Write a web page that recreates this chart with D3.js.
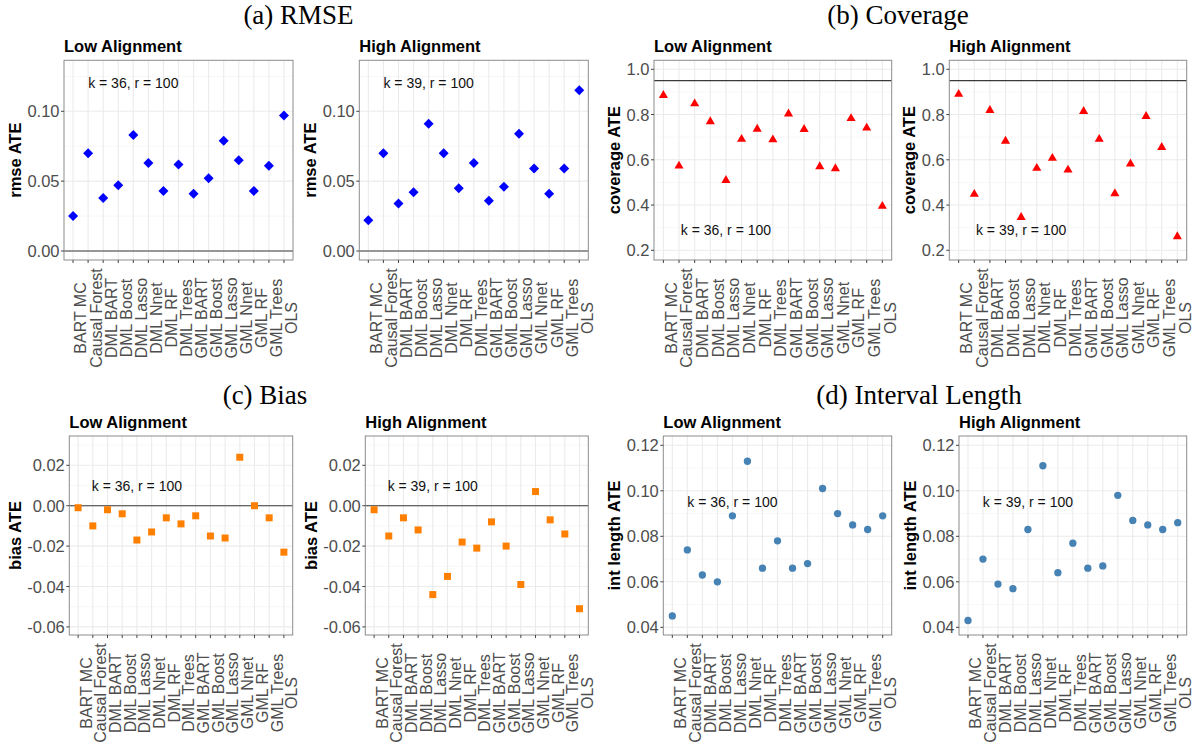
<!DOCTYPE html>
<html><head><meta charset="utf-8">
<script src="https://cdn.jsdelivr.net/npm/d3@7"></script>
<style>body{margin:0;background:#fff;} svg{display:block;}</style>
</head><body><svg id="c" width="1199" height="751"></svg>
<script>
// ---------------- data ----------------
const categories = ["BART MC","Causal Forest","DML BART","DML Boost","DML Lasso","DML Nnet","DML RF","DML Trees","GML BART","GML Boost","GML Lasso","GML Nnet","GML RF","GML Trees","OLS"];

const rmseLow  = [0.025,0.070,0.038,0.047,0.083,0.063,0.043,0.062,0.041,0.052,0.079,0.065,0.043,0.061,0.097];
const rmseHigh = [0.022,0.070,0.034,0.042,0.091,0.070,0.045,0.063,0.036,0.046,0.084,0.059,0.041,0.059,0.115];

const coverageLow  = [0.885,0.573,0.848,0.769,0.509,0.691,0.736,0.689,0.803,0.735,0.570,0.561,0.783,0.741,0.395];
const coverageHigh = [0.890,0.448,0.819,0.683,0.346,0.563,0.607,0.555,0.814,0.691,0.451,0.582,0.792,0.655,0.261];

const biasLow  = [-0.001,-0.010,-0.002,-0.004,-0.017,-0.013,-0.006,-0.009,-0.005,-0.015,-0.016,0.024,0.000,-0.006,-0.023];
const biasHigh = [-0.002,-0.015,-0.006,-0.012,-0.044,-0.035,-0.018,-0.021,-0.008,-0.020,-0.039,0.007,-0.007,-0.014,-0.051];

const intLow  = [0.045,0.074,0.063,0.060,0.089,0.113,0.066,0.078,0.066,0.068,0.101,0.090,0.085,0.083,0.089];
const intHigh = [0.043,0.070,0.059,0.057,0.083,0.111,0.064,0.077,0.066,0.067,0.098,0.087,0.085,0.083,0.086];

const rmseTicks     = [0, 0.05, 0.10];
const coverageTicks = [0.2, 0.4, 0.6, 0.8, 1.0];
const biasTicks     = [-0.06, -0.04, -0.02, 0.00, 0.02];
const intTicks      = [0.04, 0.06, 0.08, 0.10, 0.12];

const rmseRef = 0, coverageRef = 0.95, biasRef = 0;

const annLow = "k = 36, r = 100", annHigh = "k = 39, r = 100";
const annCategory = "DML Lasso";
const annY = {rmse: 0.12, coverage: 0.29, bias: 0.01, int: 0.095};

const sectionTitles = ["(a) RMSE", "(b) Coverage", "(c) Bias", "(d) Interval Length"];
const panelTitles = ["Low Alignment", "High Alignment"];
const yTitles = ["rmse ATE", "coverage ATE", "bias ATE", "int length ATE"];

// ---------------- drawing ----------------
const svg = d3.select("#c");
svg.append("rect").attr("width",1199).attr("height",751).attr("fill","#fff");

const SANS = "'Liberation Sans', Arial, Helvetica, sans-serif";
const SERIF = "'Liberation Serif', 'Times New Roman', serif";

const top1 = 60.3, bot1 = 260, top2 = 436, bot2 = 635;

function panel(o) {
  const g = svg.append("g");
  const x = d3.scalePoint().domain(categories).range([o.x0, o.x1]).padding(0.6);
  const y = d3.scaleLinear().domain(o.anchorV).range(o.anchorP);
  const ticks = o.ticks;
  const step = ticks[1] - ticks[0];
  const minor = [];
  const lo = y.invert(o.y1), hi = y.invert(o.y0);
  for (let v = ticks[0] - step/2; v <= hi + 1e-9; v += step) if (v >= lo && v <= hi) minor.push(v);

  g.append("rect").attr("x",o.x0).attr("y",o.y0).attr("width",o.x1-o.x0).attr("height",o.y1-o.y0).attr("fill","#fff");
  // minor grid
  g.selectAll(".mn").data(minor).join("line")
    .attr("x1",o.x0).attr("x2",o.x1).attr("y1",d=>y(d)).attr("y2",d=>y(d))
    .attr("stroke","#f2f2f2").attr("stroke-width",0.6);
  // major grid
  g.selectAll(".mj").data(ticks).join("line")
    .attr("x1",o.x0).attr("x2",o.x1).attr("y1",d=>y(d)).attr("y2",d=>y(d))
    .attr("stroke","#ebebeb").attr("stroke-width",1.1);
  g.selectAll(".vx").data(categories).join("line")
    .attr("x1",d=>x(d)).attr("x2",d=>x(d)).attr("y1",o.y0).attr("y2",o.y1)
    .attr("stroke","#ebebeb").attr("stroke-width",1.1);
  // reference line
  if (o.ref !== null) {
    g.append("line").attr("x1",o.x0).attr("x2",o.x1).attr("y1",y(o.ref)).attr("y2",y(o.ref))
      .attr("stroke","#3a3a3a").attr("stroke-width",1.1);
  }
  // points
  const sym = d3.symbol().type(o.shape).size(o.size);
  g.selectAll(".pt").data(o.values).join("path")
    .attr("d", sym)
    .attr("transform",(d,i)=>`translate(${x(categories[i])},${y(d)})${o.rot?" rotate(45)":""}`)
    .attr("fill", o.color);
  // annotation
  g.append("text").attr("x", x(annCategory)).attr("y", y(o.annY))
    .attr("text-anchor","middle").attr("dominant-baseline","central")
    .attr("font-family",SANS).attr("font-size",14).attr("fill","#111").text(o.ann);
  // border
  g.append("rect").attr("x",o.x0).attr("y",o.y0).attr("width",o.x1-o.x0).attr("height",o.y1-o.y0)
    .attr("fill","none").attr("stroke","#8c8c8c").attr("stroke-width",1);
  // y ticks
  g.selectAll(".yt").data(ticks).join("line")
    .attr("x1",o.x0-3).attr("x2",o.x0).attr("y1",d=>y(d)).attr("y2",d=>y(d))
    .attr("stroke","#444").attr("stroke-width",1);
  const lab = g.selectAll(".yl").data(ticks).join("text")
    .attr("x",o.x0-4.5).attr("y",d=>y(d)).attr("text-anchor","end").attr("dominant-baseline","central")
    .attr("font-family",SANS).attr("font-size",16.5).attr("fill","#4d4d4d").text(o.fmt);
  let maxW = 0; lab.each(function(){ maxW = Math.max(maxW, this.getComputedTextLength()); });
  // x ticks
  g.selectAll(".xt").data(categories).join("line")
    .attr("x1",d=>x(d)).attr("x2",d=>x(d)).attr("y1",o.y1).attr("y2",o.y1+3)
    .attr("stroke","#444").attr("stroke-width",1);
  g.selectAll(".xl").data(categories).join("text")
    .attr("transform",d=>`translate(${x(d)+13.4},${o.y1+58}) rotate(-90)`)
    .attr("text-anchor","middle")
    .attr("font-family",SANS).attr("font-size",16).attr("fill","#4d4d4d").text(d=>d);
  // y title
  const bx = o.x0 - 4.5 - maxW - 6.5;
  g.append("text").attr("transform",`translate(${bx},${(o.y0+o.y1)/2}) rotate(-90)`)
    .attr("text-anchor","middle").attr("font-family",SANS).attr("font-weight","bold")
    .attr("font-size",16.5).attr("fill","#000").text(o.yTitle);
  // panel title
  g.append("text").attr("x",o.x0).attr("y",o.y0-8.3)
    .attr("font-family",SANS).attr("font-weight","bold").attr("font-size",16.5).attr("fill","#000")
    .text(o.title);
}

const f2 = v => v.toFixed(2), f1 = v => v.toFixed(1);

const rmseScale = {anchorV:[0,0.10], anchorP:[251,111.3]};
const covScale  = {anchorV:[0.2,1.0], anchorP:[250.3,69.3]};
const biasScale = {anchorV:[0,0.02], anchorP:[505.7,465.3]};
const intScale  = {anchorV:[0.04,0.12], anchorP:[627.3,445.3]};

// (a) RMSE
panel({x0:64, x1:293, y0:top1, y1:bot1, ...rmseScale, ticks:rmseTicks, fmt:f2, values:rmseLow,
  shape:d3.symbolSquare, rot:true, size:50, color:"#0000ff", ref:rmseRef, annY:annY.rmse, ann:annLow, title:panelTitles[0], yTitle:yTitles[0]});
panel({x0:359.3, x1:588.3, y0:top1, y1:bot1, ...rmseScale, ticks:rmseTicks, fmt:f2, values:rmseHigh,
  shape:d3.symbolSquare, rot:true, size:50, color:"#0000ff", ref:rmseRef, annY:annY.rmse, ann:annHigh, title:panelTitles[1], yTitle:yTitles[0]});
// (b) Coverage
panel({x0:654, x1:891.7, y0:top1, y1:bot1, ...covScale, ticks:coverageTicks, fmt:f1, values:coverageLow,
  shape:d3.symbolTriangle, rot:false, size:36, color:"#ff0000", ref:coverageRef, annY:annY.coverage, ann:annLow, title:panelTitles[0], yTitle:yTitles[1]});
panel({x0:949.3, x1:1186.7, y0:top1, y1:bot1, ...covScale, ticks:coverageTicks, fmt:f1, values:coverageHigh,
  shape:d3.symbolTriangle, rot:false, size:36, color:"#ff0000", ref:coverageRef, annY:annY.coverage, ann:annHigh, title:panelTitles[1], yTitle:yTitles[1]});
// (c) Bias
panel({x0:69.3, x1:292.7, y0:top2, y1:bot2, ...biasScale, ticks:biasTicks, fmt:f2, values:biasLow,
  shape:d3.symbolSquare, rot:false, size:49, color:"#ff7f00", ref:biasRef, annY:annY.bias, ann:annLow, title:panelTitles[0], yTitle:yTitles[2]});
panel({x0:365.3, x1:588.3, y0:top2, y1:bot2, ...biasScale, ticks:biasTicks, fmt:f2, values:biasHigh,
  shape:d3.symbolSquare, rot:false, size:49, color:"#ff7f00", ref:biasRef, annY:annY.bias, ann:annHigh, title:panelTitles[1], yTitle:yTitles[2]});
// (d) Interval length
panel({x0:663.3, x1:891.7, y0:top2, y1:bot2, ...intScale, ticks:intTicks, fmt:f2, values:intLow,
  shape:d3.symbolCircle, rot:false, size:42, color:"#4682b4", ref:null, annY:annY.int, ann:annLow, title:panelTitles[0], yTitle:yTitles[3]});
panel({x0:959, x1:1186.7, y0:top2, y1:bot2, ...intScale, ticks:intTicks, fmt:f2, values:intHigh,
  shape:d3.symbolCircle, rot:false, size:42, color:"#4682b4", ref:null, annY:annY.int, ann:annHigh, title:panelTitles[1], yTitle:yTitles[3]});

// section titles
const secPos = [[298.5,24],[898,24],[265,404],[919,404]];
svg.selectAll(".sec").data(sectionTitles).join("text")
  .attr("x",(d,i)=>secPos[i][0]).attr("y",(d,i)=>secPos[i][1])
  .attr("text-anchor","middle").attr("font-family",SERIF).attr("font-size",27).attr("fill","#000")
  .text(d=>d);
</script></body></html>
